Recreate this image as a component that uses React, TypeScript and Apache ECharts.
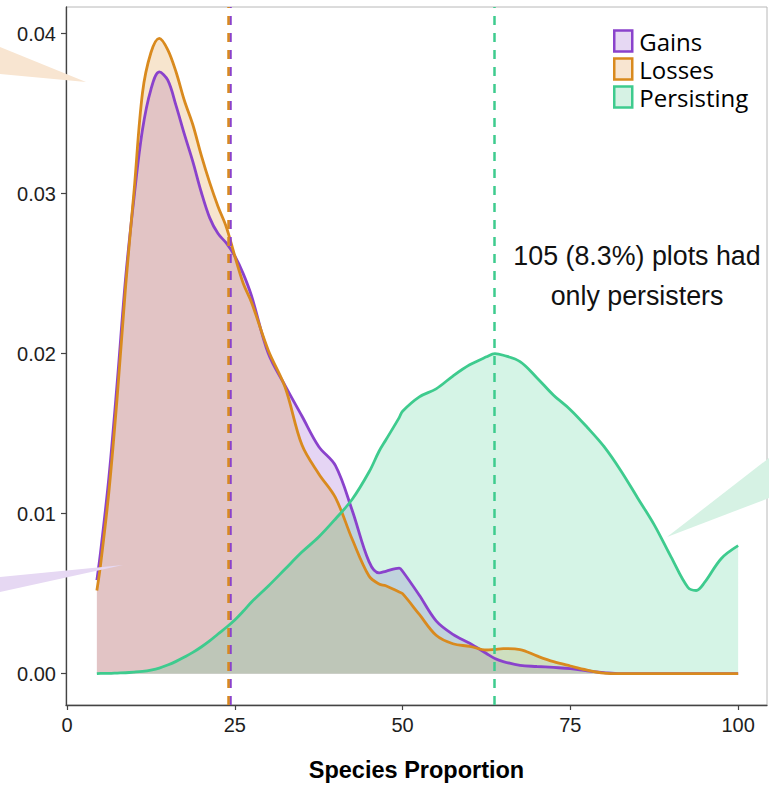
import React, { useEffect, useRef } from "react";
import * as echarts from "echarts";

// ---- data ----
const speciesProportion = [
  4.45, 5, 6.25, 7.5, 8.75, 10, 11.25, 12.5, 13.75, 15, 16.25, 17.5, 18.75, 20,
  21.25, 22.5, 23.75, 25, 26.25, 27.5, 30, 32.5, 35, 37.5, 40, 42.5, 45, 46.5,
  47.5, 49.5, 50, 52.5, 55, 57.5, 60, 62.5, 63.75, 65, 67.5, 70, 72.5, 75, 77.5,
  80, 82.5, 85, 87.5, 90, 92.5, 93.75, 95, 97.5, 100,
];
const gains = [
  0.00585, 0.0076, 0.0123, 0.0183, 0.0248, 0.0298, 0.034, 0.0365, 0.0376,
  0.0371, 0.0355, 0.0337, 0.032, 0.0301, 0.0285, 0.0275, 0.0269, 0.0261, 0.025,
  0.0236, 0.02, 0.018, 0.0161, 0.0142, 0.013, 0.0102, 0.007, 0.0063, 0.0064,
  0.0066, 0.0064, 0.0049, 0.0033, 0.00246, 0.0019, 0.00126, 0.00095, 0.00076,
  0.00052, 0.00045, 0.00039, 0.00032, 0.00018, 0.00007, 0, 0, 0, 0, 0, 0, 0, 0,
  0,
];
const losses = [
  0.0052, 0.0068, 0.0114, 0.0174, 0.0243, 0.0302, 0.0363, 0.0388, 0.0397,
  0.039, 0.0376, 0.0358, 0.0343, 0.0324, 0.0307, 0.0292, 0.0279, 0.0261,
  0.0244, 0.0232, 0.0202, 0.0179, 0.0143, 0.0125, 0.011, 0.0084, 0.0061,
  0.0056, 0.0055, 0.0051, 0.005, 0.0037, 0.0024, 0.00187, 0.00171, 0.00148,
  0.00152, 0.00157, 0.00151, 0.00111, 0.00075, 0.00048, 0.00023, 0.00004, 0, 0,
  0, 0, 0, 0, 0, 0, 0,
];
const persisting = [
  0.00001, 0.00002, 0.00002, 0.00004, 0.00006, 0.0001, 0.00015, 0.00023,
  0.00035, 0.00054, 0.00077, 0.00104, 0.00133, 0.00167, 0.00205, 0.00248,
  0.0029, 0.00336, 0.0039, 0.00448, 0.00548, 0.00654, 0.0076, 0.00854, 0.00967,
  0.0109, 0.0126, 0.0139, 0.0146, 0.016, 0.0164, 0.0173, 0.0178, 0.0186,
  0.0193, 0.0198, 0.02, 0.0199, 0.0195, 0.0185, 0.0174, 0.0165, 0.0154, 0.0142,
  0.0127, 0.011, 0.0093, 0.0073, 0.0054, 0.0052, 0.0057, 0.0072, 0.008,
];
const gainsMean = 24.35;
const lossesMean = 24.0;
const persistingMean = 63.7;
const xTicks = [0, 25, 50, 75, 100];
const yTicks = [0, 0.01, 0.02, 0.03, 0.04];
const seriesNames = ["Gains", "Losses", "Persisting"];
const annotation = "105 (8.3%) plots had\nonly persisters";
const xTitle = "Species Proportion";

const GAINS = "#8a42cc";
const LOSSES = "#d98a1e";
const PERSIST = "#3ecb8e";
const FILL_GAINS = "#e6d8f3";
const FILL_LOSSES = "#f8e5d1";
const FILL_PERSIST = "#d6f2e4";

const AXIS_FONT = "'Liberation Sans', Arial, Helvetica, sans-serif";

function mkSeries(name: string, values: number[], color: string, mean: number) {
  return {
    type: "line",
    name,
    data: speciesProportion.map((x, i) => [x, values[i]]),
    smooth: 0.35,
    symbol: "none",
    showSymbol: false,
    lineStyle: { color, width: 2.8 },
    itemStyle: { color },
    areaStyle: { color, opacity: 0.22 },
    markLine: {
      silent: true,
      symbol: ["none", "none"],
      label: { show: false },
      lineStyle: { color, type: [9, 8], width: 2.5, opacity: 1 },
      emphasis: { disabled: true },
      data: [{ xAxis: mean }],
    },
  };
}

export default function App() {
  const ref = useRef<HTMLDivElement>(null);
  useEffect(() => {
    if (!ref.current) return;
    const chart = echarts.init(ref.current, null, { renderer: "svg" });
    chart.setOption({
      animation: false,
      backgroundColor: "#ffffff",
      grid: {
        left: 66,
        top: 7,
        right: 2,
        bottom: 80,
        outerBoundsMode: "none",
        containLabel: false,
        show: true,
        borderColor: "#b8b8b8",
        borderWidth: 1,
        backgroundColor: "transparent",
      },
      legend: {
        orient: "vertical",
        left: 613,
        top: 29,
        padding: 0,
        icon: "rect",
        itemWidth: 18,
        itemHeight: 21,
        itemGap: 4,
        selectedMode: false,
        textStyle: {
          fontFamily: "'Open Sans', 'Noto Sans', sans-serif",
          fontSize: 24,
          lineHeight: 21,
          color: "#000",
          padding: [0, 0, 0, 2],
        },
        data: [
          { name: seriesNames[0], itemStyle: { color: FILL_GAINS, borderColor: GAINS, borderWidth: 2.5 } },
          { name: seriesNames[1], itemStyle: { color: FILL_LOSSES, borderColor: LOSSES, borderWidth: 2.5 } },
          { name: seriesNames[2], itemStyle: { color: FILL_PERSIST, borderColor: PERSIST, borderWidth: 2.5 } },
        ],
      },
      xAxis: {
        type: "value",
        min: -0.149,
        max: 104.3,
        name: xTitle,
        nameLocation: "middle",
        nameGap: 53,
        nameTextStyle: {
          fontFamily: AXIS_FONT,
          fontSize: 23.5,
          fontWeight: "bold",
          color: "#000",
        },
        axisLine: { show: true, onZero: false, lineStyle: { color: "#444", width: 1.3 } },
        axisTick: { show: true, length: 5, customValues: xTicks, lineStyle: { color: "#444", width: 1.2 } },
        axisLabel: {
          customValues: xTicks,
          margin: 10,
          fontFamily: AXIS_FONT,
          fontSize: 20,
          color: "#1e1e1e",
        },
        splitLine: { show: false },
      },
      yAxis: {
        type: "value",
        min: -0.001956,
        max: 0.04166,
        axisLine: { show: true, onZero: false, lineStyle: { color: "#444", width: 1.3 } },
        axisTick: { show: true, length: 5, customValues: yTicks, lineStyle: { color: "#444", width: 1.2 } },
        axisLabel: {
          customValues: yTicks,
          margin: 10,
          fontFamily: AXIS_FONT,
          fontSize: 20,
          color: "#1e1e1e",
          formatter: (v: number) => v.toFixed(2),
        },
        splitLine: { show: false },
      },
      series: [
        mkSeries(seriesNames[0], gains, GAINS, gainsMean),
        mkSeries(seriesNames[1], losses, LOSSES, lossesMean),
        mkSeries(seriesNames[2], persisting, PERSIST, persistingMean),
      ],
      graphic: [
        {
          type: "polygon",
          z: 100,
          silent: true,
          shape: { points: [[0, 47], [86, 82], [0, 74]] },
          style: { fill: FILL_LOSSES },
        },
        {
          type: "polygon",
          z: 100,
          silent: true,
          shape: { points: [[0, 577], [123, 565], [0, 592]] },
          style: { fill: FILL_GAINS },
        },
        {
          type: "polygon",
          z: 100,
          silent: true,
          shape: { points: [[667, 537], [769, 458], [769, 498]] },
          style: { fill: FILL_PERSIST },
        },
        {
          type: "text",
          z: 100,
          silent: true,
          x: 637,
          y: 236,
          style: {
            text: annotation,
            fontFamily: AXIS_FONT,
            fontSize: 26.8,
            lineHeight: 40,
            fill: "#111",
            align: "center",
            verticalAlign: "top",
          },
        },
      ],
    });
    return () => chart.dispose();
  }, []);
  return (
    <div
      ref={ref}
      style={{ position: "fixed", left: 0, top: 0, width: 769, height: 785 }}
    />
  );
}
